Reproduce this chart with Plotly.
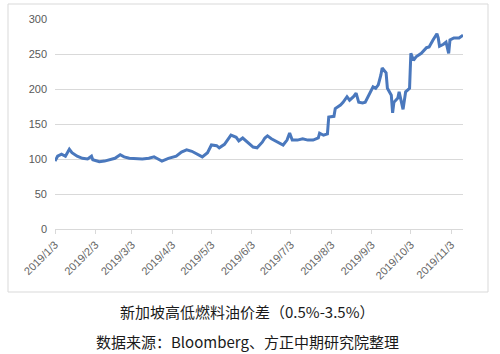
import plotly.graph_objects as go

dates = [
    "2019-01-03", "2019-01-05", "2019-01-08", "2019-01-11", "2019-01-14", "2019-01-16",
    "2019-01-20", "2019-01-24", "2019-01-28", "2019-01-31", "2019-02-01", "2019-02-06",
    "2019-02-10", "2019-02-14", "2019-02-18", "2019-02-22", "2019-02-25", "2019-03-01",
    "2019-03-07", "2019-03-11", "2019-03-16", "2019-03-20", "2019-03-22", "2019-03-26",
    "2019-03-31", "2019-04-06", "2019-04-10", "2019-04-14", "2019-04-18", "2019-04-22",
    "2019-04-26", "2019-04-30", "2019-05-03", "2019-05-07", "2019-05-09", "2019-05-13",
    "2019-05-16", "2019-05-18", "2019-05-22", "2019-05-24", "2019-05-27", "2019-05-31",
    "2019-06-04", "2019-06-07", "2019-06-11", "2019-06-13", "2019-06-15", "2019-06-18",
    "2019-06-21", "2019-06-24", "2019-06-27", "2019-06-30", "2019-07-02", "2019-07-04",
    "2019-07-08", "2019-07-12", "2019-07-16", "2019-07-20", "2019-07-24", "2019-07-25",
    "2019-07-28", "2019-07-31", "2019-08-01", "2019-08-05", "2019-08-06", "2019-08-10",
    "2019-08-12", "2019-08-15", "2019-08-17", "2019-08-20", "2019-08-22", "2019-08-24",
    "2019-08-27", "2019-08-29", "2019-09-01", "2019-09-04", "2019-09-06", "2019-09-08",
    "2019-09-10", "2019-09-11", "2019-09-14", "2019-09-15", "2019-09-18", "2019-09-19",
    "2019-09-20", "2019-09-23", "2019-09-24", "2019-09-27", "2019-09-29", "2019-10-02",
    "2019-10-03", "2019-10-05", "2019-10-07", "2019-10-11", "2019-10-15", "2019-10-17",
    "2019-10-20", "2019-10-23", "2019-10-24", "2019-10-25", "2019-10-28", "2019-10-30",
    "2019-11-01", "2019-11-02", "2019-11-05", "2019-11-09", "2019-11-12",
]
spread = [
    97, 104, 107, 104, 114, 109,
    104, 101, 100, 104, 99, 96,
    97, 99, 101, 106, 103, 101,
    100, 100, 101, 103, 101, 97,
    101, 104, 110, 113, 111, 107,
    103, 109, 120, 119, 116, 121,
    130, 134, 131, 126, 130, 124,
    117, 116, 124, 130, 133, 129,
    126, 123, 120, 127, 137, 127,
    127, 129, 127, 127, 130, 137,
    134, 136, 160, 161, 172, 177,
    181, 189, 184, 189, 194, 181,
    180, 181, 191, 203, 201, 206,
    220, 230, 223, 201, 191, 166,
    181, 187, 196, 171, 196, 201,
    251, 241, 246, 251, 259, 260,
    270, 279, 273, 261, 264, 267,
    251, 270, 273, 273, 277,
]

tick_vals = ["2019-01-03", "2019-02-03", "2019-03-03", "2019-04-03", "2019-05-03", "2019-06-03",
             "2019-07-03", "2019-08-03", "2019-09-03", "2019-10-03", "2019-11-03"]
tick_text = ["2019/1/3", "2019/2/3", "2019/3/3", "2019/4/3", "2019/5/3", "2019/6/3",
             "2019/7/3", "2019/8/3", "2019/9/3", "2019/10/3", "2019/11/3"]
y_ticks = [0, 50, 100, 150, 200, 250, 300]

caption1 = "新加坡高低燃料油价差（0.5%-3.5%）"
caption2 = "数据来源：Bloomberg、方正中期研究院整理"

fig = go.Figure()
fig.add_trace(go.Scatter(
    x=dates, y=spread, mode="lines",
    line=dict(color="#4a78bd", width=3),
    showlegend=False, hoverinfo="skip",
))

W, H = 500, 354
L, R, T, B = 55, 37, 19, 125
pw, ph = W - L - R, H - T - B

def px(x):
    return (x - L) / pw

def py(y):
    return (H - B - y) / ph

fig.update_layout(
    width=W, height=H,
    margin=dict(l=L, r=R, t=T, b=B),
    paper_bgcolor="white", plot_bgcolor="white",
    font=dict(family="Liberation Sans, Arial, sans-serif", color="#595959"),
    xaxis=dict(
        type="date",
        range=["2019-01-03", "2019-11-12"],
        tickvals=tick_vals, ticktext=tick_text, tickangle=-45,
        showgrid=False, zeroline=False,
        showline=True, linecolor="#d9d9d9", linewidth=1,
        ticks="outside", ticklen=4, tickcolor="#d9d9d9",
        tickfont=dict(size=11, color="#666666"),
    ),
    yaxis=dict(
        range=[0, 300], tickvals=y_ticks,
        showgrid=True, gridcolor="#d9d9d9", gridwidth=1,
        zeroline=False, showline=False, ticks="",
        ticklabelstandoff=7,
        tickfont=dict(size=11, color="#595959"),
    ),
    shapes=[dict(
        type="rect", xref="paper", yref="paper",
        x0=px(8), x1=px(488), y0=py(292), y1=py(4),
        line=dict(color="#d9d9d9", width=1), fillcolor="rgba(0,0,0,0)", layer="below",
    )],
    annotations=[
        dict(text=caption1, xref="paper", yref="paper", x=px(247), y=py(311.5),
             xanchor="center", yanchor="middle", showarrow=False,
             font=dict(family="Noto Sans CJK SC", size=15, color="#1a1a1a")),
        dict(text=caption2, xref="paper", yref="paper", x=px(247), y=py(341),
             xanchor="center", yanchor="middle", showarrow=False,
             font=dict(family="Noto Sans CJK SC", size=15, color="#1a1a1a")),
    ],
)

fig.write_html("out.html")
